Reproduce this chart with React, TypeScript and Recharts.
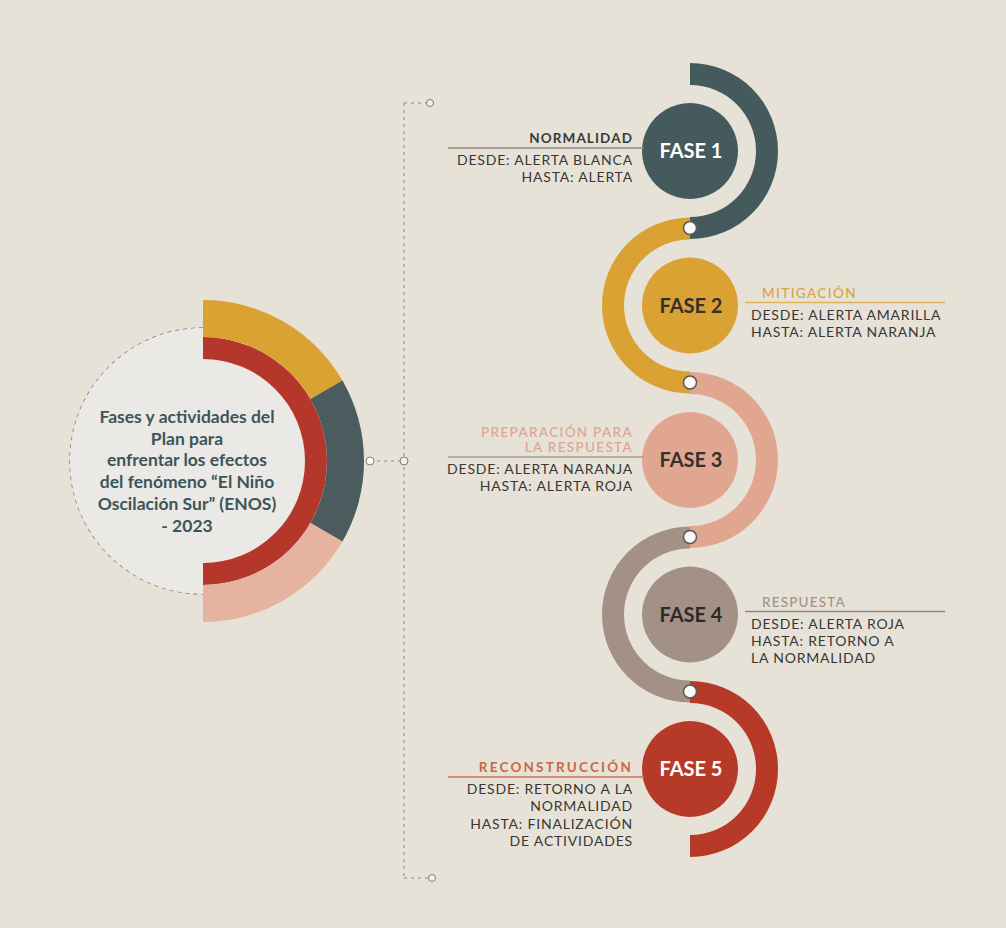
import React from "react";
import { PieChart, Pie, Cell, Customized } from "recharts";

// Fases del plan ENOS 2023 — infografía en forma de S
const PHASES = ["FASE 1", "FASE 2", "FASE 3", "FASE 4", "FASE 5"];
const STAGE_NAMES = [
  ["NORMALIDAD"],
  ["MITIGACIÓN"],
  ["PREPARACIÓN PARA", "LA RESPUESTA"],
  ["RESPUESTA"],
  ["RECONSTRUCCIÓN"],
];
const RANGE_LINES = [
  ["DESDE: ALERTA BLANCA", "HASTA: ALERTA"],
  ["DESDE: ALERTA AMARILLA", "HASTA: ALERTA NARANJA"],
  ["DESDE: ALERTA NARANJA", "HASTA: ALERTA ROJA"],
  ["DESDE: ALERTA ROJA", "HASTA: RETORNO A", "LA  NORMALIDAD"],
  ["DESDE: RETORNO A LA", "NORMALIDAD", "HASTA: FINALIZACIÓN", "DE ACTIVIDADES"],
];
const TITLE_LINES = [
  "Fases y actividades del",
  "Plan para",
  "enfrentar los efectos",
  "del fenómeno “El Niño",
  "Oscilación Sur” (ENOS)",
  "- 2023",
];
const OUTER_SEGMENTS = [
  { name: "amarillo", value: 1 },
  { name: "pizarra", value: 1 },
  { name: "rosa", value: 1 },
];

const PHASE_COLORS = ["#455A5C", "#D9A232", "#E1A68F", "#A39188", "#B73A29"];
const LABEL_COLORS = ["#FFFFFF", "#35302C", "#35302C", "#2E2A28", "#FFFFFF"];
const NAME_COLORS = ["#3A3A3A", "#D6A642", "#DDA894", "#A3928A", "#C76A3F"];
const NAME_WEIGHTS = [700, 500, 600, 500, 700];
const NAME_SPACING = [1.1, 1.4, 1.3, 1.2, 2.2];
const RULE_COLORS = ["#8C8680", "#E0B25A", "#A89C94", "#8E8680", "#CF7050"];
const OUTER_COLORS = ["#D9A232", "#4A5C5E", "#E6B3A0"];

const W = 1006;
const H = 928;
const FONT = "Lato, 'Open Sans', sans-serif";

const SX = 690; // x del eje de la S
const STEP = 154.5;
const Y0 = 151;
const LEFT = { cx: 203, cy: 461 };

const one = [{ v: 1 }];

function Guides() {
  return (
    <g>
      {/* eje punteado vertical */}
      <line x1={404} y1={103} x2={404} y2={878} stroke="#8E8A86" strokeDasharray="3 4" />
      <line x1={404} y1={103} x2={426} y2={103} stroke="#8E8A86" strokeDasharray="3 4" />
      <line x1={404} y1={878} x2={428} y2={878} stroke="#8E8A86" strokeDasharray="3 4" />
      <line x1={370} y1={461} x2={404} y2={461} stroke="#8E8A86" strokeDasharray="3 4" />
      <circle cx={430} cy={103} r={3.5} fill="#F4F1EC" stroke="#7E7A76" />
      <circle cx={432} cy={878} r={3.5} fill="#F4F1EC" stroke="#7E7A76" />
      <circle cx={404} cy={461} r={4} fill="#F4F1EC" stroke="#7E7A76" />
      {/* semicírculo punteado izquierdo */}
      <path
        d={`M ${LEFT.cx} ${LEFT.cy - 133} A 133 133 0 0 0 ${LEFT.cx} ${LEFT.cy + 133}`}
        fill="none"
        stroke="#9C7C80"
        strokeWidth={1.5}
        strokeDasharray="4 4"
      />
    </g>
  );
}

const titleLabel = () => (
  <g fontFamily={FONT}>
    {TITLE_LINES.map((t, i) => (
      <text key={t} x={187} y={423 + i * 21.7} textAnchor="middle" fontSize={17.5} fontWeight={700} fill="#3D5558">
        {t}
      </text>
    ))}
  </g>
);

const connectorLabel = (props: any) =>
  props.index === 1 ? (
    <circle cx={370} cy={461} r={4} fill="#FFFFFF" stroke="#7E7A76" />
  ) : (
    <g />
  );

function phaseLabel(i: number) {
  return () => {
    const cy = Y0 + i * STEP;
    const left = i % 2 === 0;
    const lineY = cy - 3 + (RANGE_LINES[i].length > 3 ? 11 : 0);
    const names = STAGE_NAMES[i];
    const tx = left ? 633 : 751;
    const nx = left ? 633 : 762;
    const anchor = left ? "end" : "start";
    return (
      <g fontFamily={FONT}>
        <text x={SX + 1} y={cy + 7} textAnchor="middle" fontSize={20} fontWeight={700} fill={LABEL_COLORS[i]}>
          {PHASES[i]}
        </text>
        {i < PHASES.length - 1 && (
          <circle cx={SX} cy={cy + 77} r={6.5} fill="#FAFAF8" stroke="#5A5A58" strokeWidth={1.5} />
        )}
        <line
          x1={left ? 448 : 745}
          x2={left ? 644 : 945}
          y1={lineY}
          y2={lineY}
          stroke={RULE_COLORS[i]}
          strokeWidth={1.5}
        />
        {names.map((n, k) => (
          <text
            key={n}
            x={nx}
            y={lineY - 5 - (names.length - 1 - k) * 15.5}
            textAnchor={anchor}
            fontSize={13.5}
            fontWeight={NAME_WEIGHTS[i]}
            fill={NAME_COLORS[i]}
            letterSpacing={NAME_SPACING[i]}
          >
            {n}
          </text>
        ))}
        {RANGE_LINES[i].map((r, k) => (
          <text
            key={r}
            x={tx}
            y={lineY + 17 + k * 17.3}
            textAnchor={anchor}
            fontSize={14}
            fill="#3A3634"
            letterSpacing={0.8}
          >
            {r}
          </text>
        ))}
      </g>
    );
  };
}

export default function App() {
  return (
    <div style={{ position: "absolute", left: 0, top: 0, width: W, height: H, background: "#E7E2D8" }}>
      <PieChart width={W} height={H} margin={{ top: 0, right: 0, bottom: 0, left: 0 }}>
        <Customized component={Guides} />
        {/* disco izquierdo */}
        <Pie data={one} dataKey="v" cx={LEFT.cx} cy={LEFT.cy} innerRadius={0} outerRadius={133}
          startAngle={0} endAngle={360} fill="#EAE9E5" stroke="none" isAnimationActive={false}
          label={titleLabel} labelLine={false} />
        <Pie data={one} dataKey="v" cx={LEFT.cx} cy={LEFT.cy} innerRadius={102} outerRadius={124}
          startAngle={90} endAngle={-90} fill="#B5362A" stroke="none" isAnimationActive={false} />
        <Pie data={OUTER_SEGMENTS} dataKey="value" cx={LEFT.cx} cy={LEFT.cy} innerRadius={124} outerRadius={161}
          startAngle={90} endAngle={-90} stroke="none" isAnimationActive={false}
          label={connectorLabel} labelLine={false}>
          {OUTER_SEGMENTS.map((s, i) => (
            <Cell key={s.name} fill={OUTER_COLORS[i]} />
          ))}
        </Pie>

        {/* arcos de la S */}
        {PHASES.map((p, i) => (
          <Pie key={`arc-${p}`} data={one} dataKey="v" cx={SX} cy={Y0 + i * STEP} innerRadius={66} outerRadius={88}
            startAngle={90} endAngle={i % 2 === 0 ? -90 : 270} fill={PHASE_COLORS[i]} stroke="none"
            isAnimationActive={false} />
        ))}
        {/* círculos de fase con sus textos */}
        {PHASES.map((p, i) => (
          <Pie key={`dot-${p}`} data={one} dataKey="v" cx={SX} cy={Y0 + i * STEP} innerRadius={0} outerRadius={48}
            startAngle={0} endAngle={360} fill={PHASE_COLORS[i]} stroke="none" isAnimationActive={false}
            label={phaseLabel(i)} labelLine={false} />
        ))}
      </PieChart>
    </div>
  );
}
